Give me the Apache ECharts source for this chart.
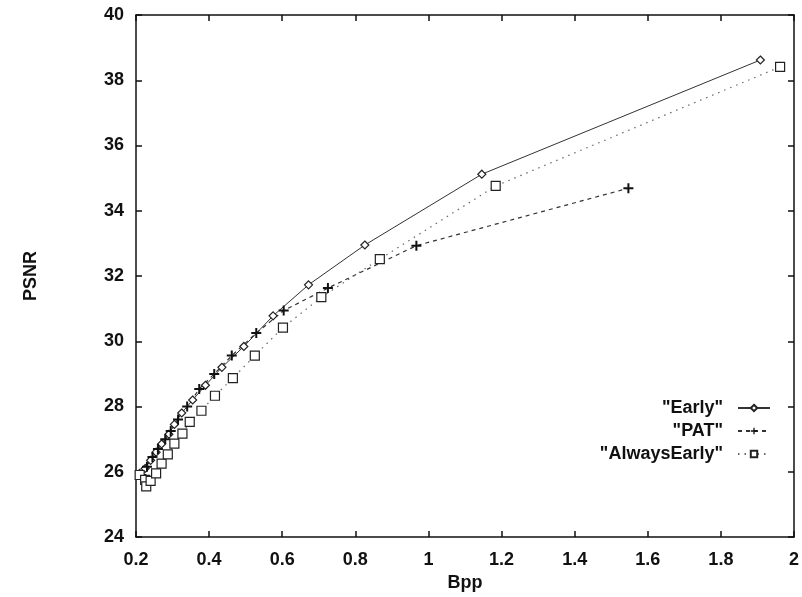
<!DOCTYPE html>
<html>
<head>
<meta charset="utf-8">
<script src="https://cdn.jsdelivr.net/npm/echarts@6/dist/echarts.min.js"></script>
<style>
  html, body { margin: 0; padding: 0; background: #fff; }
  #chart { width: 802px; height: 597px; }
</style>
</head>
<body>
<div id="chart"></div>
<script>
// values
const earlyBpp = [0.21, 0.225, 0.24, 0.255, 0.27, 0.29, 0.305, 0.325, 0.355, 0.39, 0.435, 0.495, 0.575, 0.672, 0.826, 1.146, 1.908];
const earlyPsnr = [25.95, 26.1, 26.35, 26.6, 26.85, 27.15, 27.45, 27.8, 28.2, 28.65, 29.2, 29.84, 30.78, 31.73, 32.95, 35.12, 38.62];

const patBpp = [0.215, 0.23, 0.245, 0.26, 0.28, 0.295, 0.315, 0.34, 0.373, 0.414, 0.462, 0.529, 0.604, 0.725, 0.967, 1.547];
const patPsnr = [25.9, 26.15, 26.45, 26.7, 27.0, 27.25, 27.6, 28.0, 28.54, 29.0, 29.56, 30.25, 30.94, 31.63, 32.93, 34.69];

const alwaysBpp = [0.21, 0.225, 0.228, 0.24, 0.255, 0.27, 0.287, 0.305, 0.327, 0.347, 0.379, 0.416, 0.465, 0.525, 0.602, 0.707, 0.867, 1.184, 1.962];
const alwaysPsnr = [25.9, 25.75, 25.55, 25.72, 25.95, 26.25, 26.53, 26.86, 27.17, 27.53, 27.87, 28.33, 28.87, 29.56, 30.42, 31.35, 32.52, 34.76, 38.41];

const seriesNames = ['"Early"', '"PAT"', '"AlwaysEarly"'];

const fontFam = "'Liberation Sans', Arial, sans-serif";
const ink = "#111";

const pairs = (xs, ys) => xs.map((x, i) => [x, ys[i]]);

const plusPath = "path://M4,0h2v4h4v2h-4v4h-2v-4h-4v-2h4z";

const chart = echarts.init(document.getElementById("chart"), null, { renderer: "canvas" });

const labelStyle = {
  color: ink,
  fontFamily: fontFam,
  fontWeight: "bold",
  fontSize: 18,
};

const tickStyle = { show: true, inside: true, length: 6, lineStyle: { color: ink, width: 1.5 } };
const frameLine = { show: true, lineStyle: { color: ink, width: 1.5 } };

chart.setOption({
  animation: false,
  backgroundColor: "#fff",
  grid: {
    left: 136,
    right: 4,
    top: 15,
    bottom: 60,
    containLabel: false,
  },
  legend: {
    orient: "vertical",
    right: 26,
    top: 394,
    align: "right",
    itemWidth: 32,
    itemHeight: 8,
    itemGap: 5,
    textStyle: { ...labelStyle, fontSize: 18, padding: [0, 10, 0, 0] },
    data: seriesNames,
  },
  xAxis: [
    {
      type: "value",
      min: 0.2,
      max: 2,
      interval: 0.2,
      name: "Bpp",
      nameLocation: "middle",
      nameGap: 37,
      nameTextStyle: labelStyle,
      axisLine: frameLine,
      axisTick: tickStyle,
      axisLabel: {
        ...labelStyle,
        margin: 14,
        formatter: (v) => String(Math.round(v * 10) / 10),
      },
      splitLine: { show: false },
    },
    {
      type: "value",
      position: "top",
      min: 0.2,
      max: 2,
      interval: 0.2,
      axisLine: frameLine,
      axisTick: tickStyle,
      axisLabel: { show: false },
      splitLine: { show: false },
    },
  ],
  yAxis: [
    {
      type: "value",
      min: 24,
      max: 40,
      interval: 2,
      name: "PSNR",
      nameLocation: "middle",
      nameGap: 96,
      nameRotate: 90,
      nameTextStyle: labelStyle,
      axisLine: frameLine,
      axisTick: tickStyle,
      axisLabel: { ...labelStyle, margin: 12 },
      splitLine: { show: false },
    },
    {
      type: "value",
      position: "right",
      min: 24,
      max: 40,
      interval: 2,
      axisLine: frameLine,
      axisTick: tickStyle,
      axisLabel: { show: false },
      splitLine: { show: false },
    },
  ],
  series: [
    {
      name: seriesNames[0],
      type: "line",
      data: pairs(earlyBpp, earlyPsnr),
      symbol: "diamond",
      symbolSize: 8,
      showAllSymbol: true,
      lineStyle: { color: "#333", width: 1, type: "solid" },
      itemStyle: { color: "#fff", borderColor: "#222", borderWidth: 1.2 },
    },
    {
      name: seriesNames[1],
      type: "line",
      data: pairs(patBpp, patPsnr),
      symbol: plusPath,
      symbolSize: 10,
      showAllSymbol: true,
      lineStyle: { color: "#333", width: 1.2, type: [4, 4] },
      itemStyle: { color: "#111", borderWidth: 0 },
    },
    {
      name: seriesNames[2],
      type: "line",
      data: pairs(alwaysBpp, alwaysPsnr),
      symbol: "rect",
      symbolSize: 9,
      showAllSymbol: true,
      lineStyle: { color: "#666", width: 1.2, type: [1.5, 5] },
      itemStyle: { color: "#fff", borderColor: "#222", borderWidth: 1.2 },
    },
  ],
});
</script>
</body>
</html>
